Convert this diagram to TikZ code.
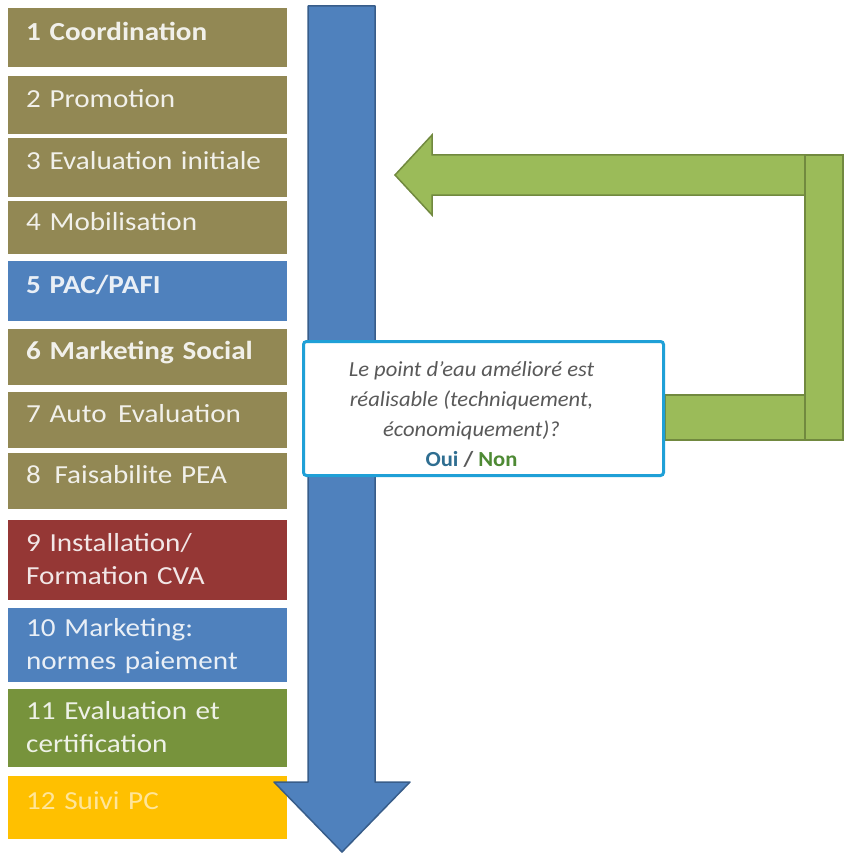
\documentclass[tikz,border=0pt]{standalone}
\usepackage{fontspec}
\usepackage{tikz}
\usetikzlibrary{positioning, backgrounds}
\newfontfamily\stepfont{Carlito}[FakeStretch=1.12]
\newfontfamily\askfont{Carlito}[FakeStretch=1.05]

\definecolor{colorOlive}{RGB}{146, 136, 84}
\definecolor{colorBlue}{RGB}{79, 129, 189}
\definecolor{colorBlueLine}{RGB}{56, 93, 138}
\definecolor{colorRed}{RGB}{149, 55, 53}
\definecolor{colorGreen}{RGB}{119, 147, 60}
\definecolor{colorYellow}{RGB}{255, 192, 0}
\definecolor{colorLoop}{RGB}{155, 187, 89}
\definecolor{colorLoopLine}{RGB}{113, 137, 63}
\definecolor{colorFrame}{RGB}{31, 160, 215}
\definecolor{colorAsk}{RGB}{89, 89, 89}
\definecolor{colorOui}{RGB}{47, 110, 145}
\definecolor{colorNon}{RGB}{78, 138, 52}

\tikzstyle{stepbox} = [rectangle, text width=243pt, inner xsep=18pt, inner ysep=0pt, align=left, text=white, text opacity=0.88, font=\stepfont\fontsize{26}{33}\selectfont]
\tikzstyle{oneline} = [text height=18pt, text depth=13pt]
\tikzstyle{twoline} = [text height=22pt, text depth=39pt]
\tikzstyle{askbox} = [rectangle, rounded corners=3pt, draw=colorFrame, line width=3pt, fill=white, minimum width=360pt, minimum height=134pt, inner sep=0pt, text=colorAsk, font=\askfont\itshape\fontsize{21.5}{30}\selectfont]
\tikzstyle{bigflow} = [fill=colorBlue, draw=colorBlueLine, line width=1.5pt, line join=round]
\tikzstyle{loop} = [fill=colorLoop, draw=colorLoopLine, line width=1.5pt]

\begin{document}
\begin{tikzpicture}[x=1pt, y=-1pt]

		\useasboundingbox (0,0) rectangle (852,853);

		% steps
		\node (pCoord)[stepbox, oneline, fill=colorOlive, minimum height=59pt, anchor=north west] at (8,8) {\bfseries 1 Coordination};
		\node (pPromo)[stepbox, oneline, fill=colorOlive, minimum height=58pt, below=8pt of pCoord] {2 Promotion};
		\node (pEvalInit)[stepbox, oneline, fill=colorOlive, minimum height=59pt, below=4pt of pPromo] {3 Evaluation initiale};
		\node (pMobil)[stepbox, oneline, fill=colorOlive, minimum height=53pt, below=4pt of pEvalInit] {4 Mobilisation};
		\node (pPac)[stepbox, oneline, fill=colorBlue, minimum height=60pt, below=6pt of pMobil] {\bfseries 5 PAC/PAFI};
		\node (pMktSocial)[stepbox, oneline, fill=colorOlive, minimum height=56pt, below=8pt of pPac] {\bfseries 6 Marketing Social};
		\node (pAutoEval)[stepbox, oneline, fill=colorOlive, minimum height=56pt, below=6pt of pMktSocial] {7 Auto\hspace{3pt} Evaluation};
		\node (pFaisab)[stepbox, oneline, fill=colorOlive, minimum height=56pt, below=5pt of pAutoEval] {8\hspace{5pt} Faisabilite PEA};
		\node (pInstall)[stepbox, twoline, fill=colorRed, minimum height=80pt, below=11pt of pFaisab] {9 Installation/\\Formation CVA};
		\node (pMktNormes)[stepbox, twoline, fill=colorBlue, minimum height=74pt, below=7pt of pInstall] {10 Marketing:\\normes paiement};
		\node (pCertif)[stepbox, twoline, fill=colorGreen, minimum height=78pt, below=7pt of pMktNormes] {11 Evaluation et\\certification};
		\node (pSuivi)[stepbox, oneline, fill=colorYellow, text opacity=0.6, minimum height=63pt, below=8pt of pCertif] {12 Suivi PC};

		% big arrow down
		\draw[bigflow] (308,6) -- (375,6) -- (375,782) -- (410,782) -- (342,852) -- (274,782) -- (308,782) -- cycle;

		% question
		\node (decFeasible)[askbox] at (483.5,408.5) {\parbox[c][128pt][c]{336pt}{\centering\vspace*{12pt}Le point d’eau amélioré est\\réalisable (techniquement,\\économiquement)?\\{\upshape\bfseries\textcolor{colorOui}{Oui} / \textcolor{colorNon}{Non}}}\kern24pt};

		% loop back to step 3
		\begin{scope}[on background layer]
			\draw[loop] (decFeasible.east |- 0,395) rectangle (805,440);
		\end{scope}
		\draw[loop] (395,175) -- (432,135) -- (432,155) -- (805,155) -- (805,195) -- (432,195) -- (432,215) -- cycle;
		\draw[loop] (805,155) rectangle (843,440);

\end{tikzpicture}
\end{document}
